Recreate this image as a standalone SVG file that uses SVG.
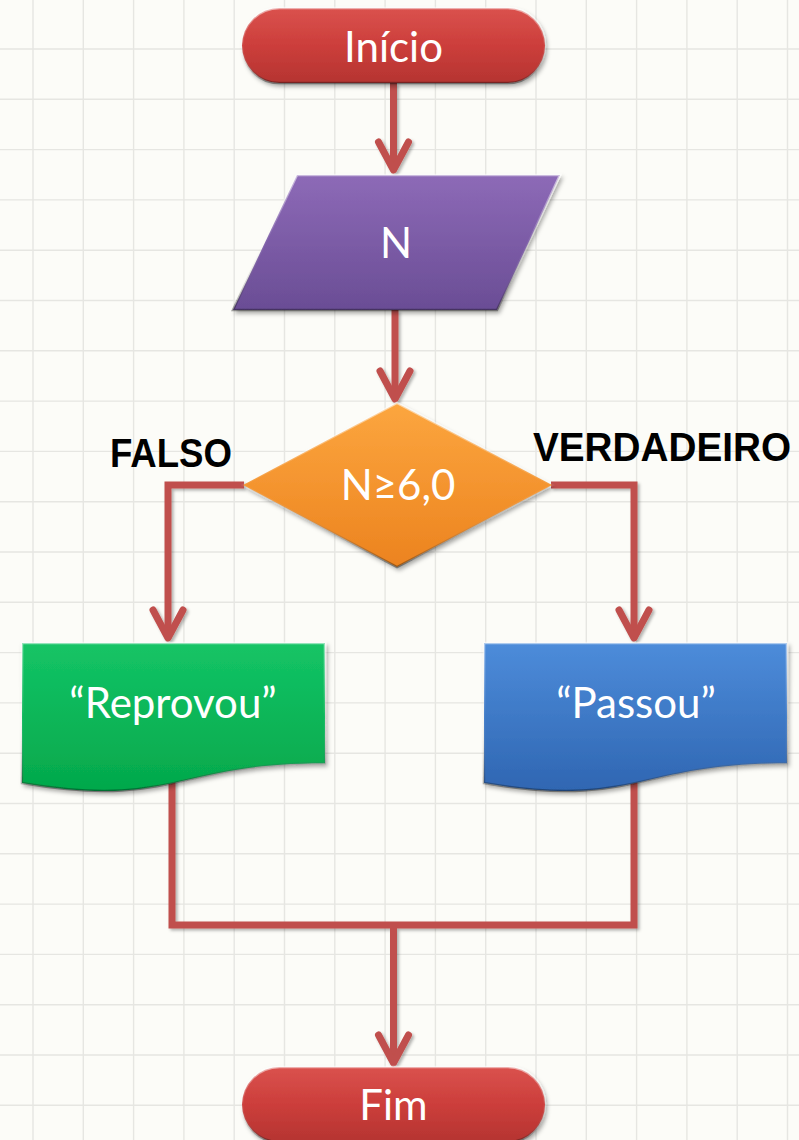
<svg xmlns="http://www.w3.org/2000/svg" width="799" height="1140" viewBox="0 0 799 1140">
<style>
.grid line{stroke:#e6e6e2;stroke-width:1.4}
.conn{fill:none;stroke:#c0504d;stroke-width:7;stroke-linejoin:miter}
.head{fill:none;stroke:#c0504d;stroke-width:7;stroke-linecap:round;stroke-linejoin:round}
.shape{stroke:url(#bevel);stroke-width:2.5;filter:url(#sh)}
.t{font-family:Lato,'Open Sans','DejaVu Sans',sans-serif;font-size:42px;fill:#ffffff;text-anchor:middle}
.lbl{font-family:'Liberation Sans',Arial,sans-serif;font-weight:bold;font-size:40px;fill:#000000}
</style>
<defs>
<linearGradient id="gRed" x1="0" y1="0" x2="0" y2="1"><stop offset="0" stop-color="#da524e"/><stop offset="0.5" stop-color="#cc3e3b"/><stop offset="1" stop-color="#b53431"/></linearGradient>
<linearGradient id="gPurple" x1="0" y1="0" x2="0" y2="1"><stop offset="0" stop-color="#8d6ab7"/><stop offset="1" stop-color="#6a4d95"/></linearGradient>
<linearGradient id="gOrange" x1="0" y1="0" x2="0" y2="1"><stop offset="0" stop-color="#fca63f"/><stop offset="1" stop-color="#ec831f"/></linearGradient>
<linearGradient id="gGreen" x1="0" y1="0" x2="0" y2="1"><stop offset="0" stop-color="#14c466"/><stop offset="1" stop-color="#04a84b"/></linearGradient>
<linearGradient id="gBlue" x1="0" y1="0" x2="0" y2="1"><stop offset="0" stop-color="#4d8cda"/><stop offset="1" stop-color="#2f66b2"/></linearGradient>
<linearGradient id="bevel" x1="0" y1="0" x2="0" y2="1"><stop offset="0" stop-color="#ffffff" stop-opacity="0.55"/><stop offset="0.5" stop-color="#ffffff" stop-opacity="0.05"/><stop offset="1" stop-color="#000000" stop-opacity="0.35"/></linearGradient>
<filter id="sh" x="-10%" y="-15%" width="125%" height="140%"><feDropShadow dx="2" dy="3" stdDeviation="2" flood-color="#000" flood-opacity="0.35"/></filter>
<filter id="shc" x="-10%" y="-10%" width="130%" height="130%"><feDropShadow dx="2" dy="2" stdDeviation="1.5" flood-color="#000" flood-opacity="0.3"/></filter>
</defs>
<rect x="0" y="0" width="799" height="1140" fill="#fcfcf8"/>
<g class="grid">
<line x1="33" y1="0" x2="33" y2="1140"/><line x1="83.3" y1="0" x2="83.3" y2="1140"/><line x1="133.6" y1="0" x2="133.6" y2="1140"/><line x1="183.9" y1="0" x2="183.9" y2="1140"/><line x1="234.2" y1="0" x2="234.2" y2="1140"/><line x1="284.5" y1="0" x2="284.5" y2="1140"/><line x1="334.8" y1="0" x2="334.8" y2="1140"/><line x1="385.1" y1="0" x2="385.1" y2="1140"/><line x1="435.4" y1="0" x2="435.4" y2="1140"/><line x1="485.7" y1="0" x2="485.7" y2="1140"/><line x1="536" y1="0" x2="536" y2="1140"/><line x1="586.3" y1="0" x2="586.3" y2="1140"/><line x1="636.6" y1="0" x2="636.6" y2="1140"/><line x1="686.9" y1="0" x2="686.9" y2="1140"/><line x1="737.2" y1="0" x2="737.2" y2="1140"/><line x1="787.5" y1="0" x2="787.5" y2="1140"/>
<line x1="0" y1="49" x2="799" y2="49"/><line x1="0" y1="99.3" x2="799" y2="99.3"/><line x1="0" y1="149.6" x2="799" y2="149.6"/><line x1="0" y1="199.9" x2="799" y2="199.9"/><line x1="0" y1="250.2" x2="799" y2="250.2"/><line x1="0" y1="300.5" x2="799" y2="300.5"/><line x1="0" y1="350.8" x2="799" y2="350.8"/><line x1="0" y1="401.1" x2="799" y2="401.1"/><line x1="0" y1="451.4" x2="799" y2="451.4"/><line x1="0" y1="501.7" x2="799" y2="501.7"/><line x1="0" y1="552" x2="799" y2="552"/><line x1="0" y1="602.3" x2="799" y2="602.3"/><line x1="0" y1="652.6" x2="799" y2="652.6"/><line x1="0" y1="702.9" x2="799" y2="702.9"/><line x1="0" y1="753.2" x2="799" y2="753.2"/><line x1="0" y1="803.5" x2="799" y2="803.5"/><line x1="0" y1="853.8" x2="799" y2="853.8"/><line x1="0" y1="904.1" x2="799" y2="904.1"/><line x1="0" y1="954.4" x2="799" y2="954.4"/><line x1="0" y1="1004.7" x2="799" y2="1004.7"/><line x1="0" y1="1055" x2="799" y2="1055"/><line x1="0" y1="1105.3" x2="799" y2="1105.3"/>
</g>
<g id="connectors" filter="url(#shc)">
<path class="conn" d="M393.5,83 V170"/>
<polyline class="head" points="378.5,142 393.5,170 408.5,142"/>
<path class="conn" d="M395,310 V399"/>
<polyline class="head" points="380,371 395,399 410,371"/>
<path class="conn" d="M244,485 H168 V638"/>
<polyline class="head" points="153,610 168,638 183,610"/>
<path class="conn" d="M551,485 H634 V638"/>
<polyline class="head" points="619,610 634,638 649,610"/>
<path class="conn" d="M172,780 V925 H634 V780"/>
<path class="conn" d="M393.5,925 V1063"/>
<polyline class="head" points="378.5,1035 393.5,1063 408.5,1035"/>
</g>
<g id="inicio">
<rect class="shape" x="242" y="8" width="303" height="75" rx="37.5" fill="url(#gRed)"/>
<text class="t" x="393.5" y="62">Início</text>
</g>
<g id="entrada-n">
<polygon class="shape" points="297,175 560,175 497,310 233,310" fill="url(#gPurple)"/>
<text class="t" x="396" y="258">N</text>
</g>
<g id="decisao">
<polygon class="shape" points="397,403 552,485 397,567 243,485" fill="url(#gOrange)"/>
<text class="t" x="398" y="500">N≥6,0</text>
</g>
<g id="label-falso">
<text class="lbl" x="110" y="467" textLength="122" lengthAdjust="spacingAndGlyphs">FALSO</text>
</g>
<g id="label-verdadeiro">
<text class="lbl" x="533" y="461" textLength="258" lengthAdjust="spacingAndGlyphs">VERDADEIRO</text>
</g>
<g id="reprovou">
<path class="shape" d="M22,643 H325 V763.3 C173.5,763.3 173.5,809.1 22,783.1 Z" fill="url(#gGreen)"/>
<text class="t" x="173" y="718">“Reprovou”</text>
</g>
<g id="passou">
<path class="shape" d="M484,643 H787 V763.3 C635.5,763.3 635.5,809.1 484,783.1 Z" fill="url(#gBlue)"/>
<text class="t" x="636" y="718">“Passou”</text>
</g>
<g id="fim">
<rect class="shape" x="242" y="1067" width="303" height="75" rx="37.5" fill="url(#gRed)"/>
<text class="t" x="393.5" y="1120">Fim</text>
</g>
</svg>
